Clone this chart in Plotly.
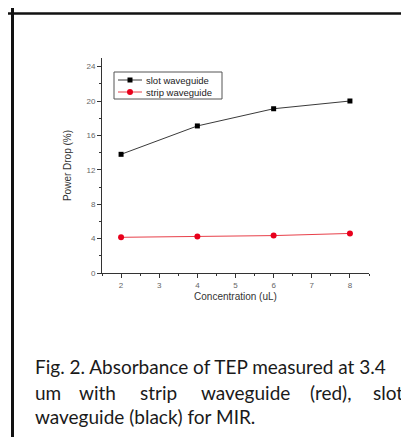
import plotly.graph_objects as go

concentration = [2, 4, 6, 8]
slot_power_drop = [13.8, 17.1, 19.1, 20.0]
strip_power_drop = [4.15, 4.25, 4.35, 4.6]
x_ticks = [2, 3, 4, 5, 6, 7, 8]
y_ticks = [0, 4, 8, 12, 16, 20, 24]
series_names = ["slot waveguide", "strip waveguide"]

W, H = 409, 437
L, R, T, B = 94, 48, 50, 172
PW, PH = W - L - R, H - T - B

SLOT_LINE, SLOT_MARK = "#3a3a3a", "#000000"
STRIP_LINE, STRIP_MARK = "#e8404a", "#e8001c"


def px(x):
    return (x - L) / PW


def py(y):
    return (H - B - y) / PH


fig = go.Figure()
fig.add_trace(go.Scatter(
    x=concentration, y=slot_power_drop, name=series_names[0],
    mode="lines+markers", showlegend=False,
    line=dict(color=SLOT_LINE, width=1),
    marker=dict(symbol="square", size=5, color=SLOT_MARK),
))
fig.add_trace(go.Scatter(
    x=concentration, y=strip_power_drop, name=series_names[1],
    mode="lines+markers", showlegend=False,
    line=dict(color=STRIP_LINE, width=1),
    marker=dict(symbol="circle", size=6, color=STRIP_MARK),
))

tickfont = dict(family="Liberation Sans, Arial", size=8, color="#666666")
titlefont = dict(family="Liberation Sans, Arial", size=10, color="#333333")
fig.update_xaxes(
    range=[1.5, 8.5], tickvals=x_ticks, ticks="outside", ticklen=4,
    tickcolor="#333", linecolor="#333", linewidth=1, showline=True,
    showgrid=False, zeroline=False, tickfont=tickfont,
    minor=dict(dtick=0.5, ticks="outside", ticklen=2, tickcolor="#333"),
    title=dict(text="Concentration (uL)", standoff=4, font=titlefont),
)
fig.update_yaxes(
    range=[0, 25], tickvals=y_ticks, ticks="outside", ticklen=4,
    tickcolor="#333", linecolor="#333", linewidth=1, showline=True,
    showgrid=False, zeroline=False, tickfont=tickfont,
    minor=dict(dtick=2, ticks="outside", ticklen=2, tickcolor="#333"),
    title=dict(text="Power Drop (%)", standoff=12, font=titlefont),
)

fig.update_layout(
    width=W, height=H, margin=dict(l=L, r=R, t=T, b=B),
    paper_bgcolor="white", plot_bgcolor="white", showlegend=False,
)

# compact legend box (drawn manually to get Origin-like spacing)
LX0, LX1, LY0, LY1 = 106, 214, 64, 91
fig.add_shape(type="rect", xref="paper", yref="paper",
              x0=px(LX0), x1=px(LX1), y0=py(LY0), y1=py(LY1),
              line=dict(color="#555", width=1), fillcolor="white")
legend_rows = [72, 84]
legend_styles = [(SLOT_LINE, SLOT_MARK, "rect"), (STRIP_LINE, STRIP_MARK, "circle")]
for name, yy, (lc, mc, shp) in zip(series_names, legend_rows, legend_styles):
    fig.add_shape(type="line", xref="paper", yref="paper",
                  x0=px(110), x1=px(134), y0=py(yy), y1=py(yy),
                  line=dict(color=lc, width=1))
    r = 2.5 if shp == "rect" else 3
    fig.add_shape(type=shp, xref="paper", yref="paper",
                  x0=px(122 - r), x1=px(122 + r), y0=py(yy - r), y1=py(yy + r),
                  line=dict(color=mc, width=0), fillcolor=mc)
    fig.add_annotation(text=name, xref="paper", yref="paper", x=px(136), y=py(yy),
                       xanchor="left", yanchor="middle", showarrow=False,
                       font=dict(family="Liberation Sans, Arial", size=9.5, color="#222"))

# frame lines (top and left)
fig.add_shape(type="line", xref="paper", yref="paper",
              x0=px(0), x1=px(W), y0=py(5.5), y1=py(5.5),
              line=dict(color="#111", width=2.5))
fig.add_shape(type="line", xref="paper", yref="paper",
              x0=px(4.5), x1=px(4.5), y0=py(0), y1=py(H),
              line=dict(color="#111", width=3))

cap_font = dict(family="Lato, Carlito, Calibri", size=19, color="#1a1a1a")
line1 = "Fig. 2. Absorbance of TEP measured at 3.4"
line2_words = ["um", "with", "strip", "waveguide", "(red),", "slot"]
line2_x = [25, 69, 130, 191, 300, 397]
line3 = "waveguide (black) for MIR."

fig.add_annotation(text=line1, xref="paper", yref="paper", x=px(25), y=py(358),
                   xanchor="left", yanchor="middle", showarrow=False, font=cap_font)
for i, w in enumerate(line2_words):
    fig.add_annotation(text=w, xref="paper", yref="paper", x=px(line2_x[i]), y=py(384),
                       xanchor="right" if i == len(line2_words) - 1 else "left",
                       yanchor="middle", showarrow=False, font=cap_font)
fig.add_annotation(text=line3, xref="paper", yref="paper", x=px(25), y=py(408),
                   xanchor="left", yanchor="middle", showarrow=False, font=cap_font)

fig.write_html("out.html")
